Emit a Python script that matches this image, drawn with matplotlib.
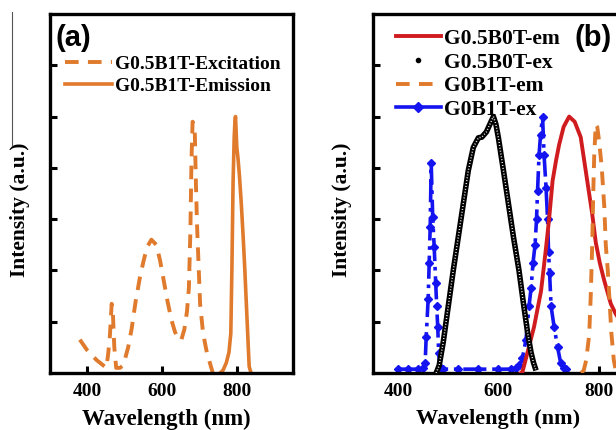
import matplotlib
matplotlib.use("Agg")
import matplotlib.pyplot as plt
from matplotlib.lines import Line2D

# ---------------- data ----------------
# panel (a)
a_ex_x = [381, 400, 426, 452, 457, 461, 466, 469, 473, 478, 488, 497, 510, 519, 530, 541, 550, 560, 572,
          585, 595, 605, 615, 625, 635, 645, 652, 660, 667, 672, 676, 679, 682, 685, 688, 691, 694, 698,
          702, 710, 720, 728, 736]
a_ex_y = [0.13, 0.09, 0.05, 0.02, 0.08, 0.14, 0.27, 0.24, 0.10, 0.02, 0.02, 0.03, 0.10, 0.17, 0.28, 0.37,
          0.43, 0.49, 0.52, 0.50, 0.44, 0.36, 0.28, 0.21, 0.16, 0.13, 0.13, 0.17, 0.24, 0.33, 0.55, 0.83,
          0.98, 0.97, 0.93, 0.73, 0.57, 0.42, 0.27, 0.155, 0.08, 0.04, 0.0]
a_em_x = [755, 763, 772, 779, 784, 787, 790, 793, 795, 796.5, 798, 800, 803, 807, 812, 817, 821, 827, 833, 838]
a_em_y = [0.0, 0.01, 0.04, 0.08, 0.155, 0.415, 0.74, 0.92, 0.98, 1.0, 0.95, 0.88, 0.84, 0.77, 0.66, 0.53,
          0.415, 0.22, 0.025, 0.0]

# panel (b)
b_em05_x = [645, 648, 658, 671, 685, 695, 701, 708, 715, 721, 730, 741, 752, 764, 777, 787, 794, 802, 811,
            824, 834, 850]
b_em05_y = [0.0, 0.005, 0.08, 0.18, 0.32, 0.49, 0.60, 0.75, 0.83, 0.89, 0.96, 1.0, 0.98, 0.92, 0.75, 0.62,
            0.51, 0.43, 0.36, 0.27, 0.23, 0.18]
b_ex05_x = [476, 482, 490, 500, 510, 520, 530, 540, 550, 560, 567, 576, 583, 590, 595, 600, 610, 620, 630,
            641, 650, 658, 665, 670, 675]
b_ex05_y = [0.0, 0.03, 0.12, 0.26, 0.40, 0.53, 0.66, 0.79, 0.88, 0.917, 0.92, 0.94, 0.97, 1.0, 0.97, 0.917,
            0.79, 0.66, 0.53, 0.40, 0.27, 0.16, 0.08, 0.04, 0.01]
b_em0_x = [765, 770, 775, 781, 784, 787, 789, 791, 794, 797, 801, 806, 811, 814, 818, 821, 825, 830, 835]
b_em0_y = [0.0, 0.01, 0.05, 0.15, 0.30, 0.50, 0.70, 0.85, 0.97, 0.96, 0.90, 0.80, 0.65, 0.50, 0.40, 0.30,
           0.16, 0.05, 0.0]
b_ex0_x = [400, 420, 440, 450, 454, 456, 460, 462, 464, 466, 469, 472, 475, 477, 479, 481, 483, 490, 520,
           560, 600, 625, 635, 642, 648, 655, 661, 665, 669, 673, 676, 678, 681, 684, 688, 691, 695, 698,
           700, 702, 705, 711, 718, 724, 730, 734]
b_ex0_y = [0.015, 0.015, 0.015, 0.02, 0.04, 0.14, 0.29, 0.43, 0.57, 0.82, 0.61, 0.49, 0.35, 0.26, 0.18,
           0.077, 0.025, 0.015, 0.015, 0.015, 0.015, 0.015, 0.02, 0.03, 0.06, 0.13, 0.26, 0.33, 0.43, 0.50,
           0.60, 0.71, 0.85, 0.93, 1.0, 0.85, 0.72, 0.60, 0.47, 0.39, 0.26, 0.18, 0.10, 0.04, 0.02, 0.015]

x_ticks = [400, 600, 800]
y_ticks = [0.2, 0.4, 0.6, 0.8, 1.0, 1.2]

# ---------------- style ----------------
ORANGE = "#E07A2C"
RED = "#D01C1F"
BLUE = "#1414F0"
SERIF = "Liberation Serif"
SANS = "Liberation Sans"

W, H = 616, 430
fig = plt.figure(figsize=(W / 100, H / 100), dpi=100)


def px_axes(l, r, t, b):
    return fig.add_axes([l / W, 1 - b / H, (r - l) / W, (b - t) / H])


def style(ax, xlim, xlabel_size):
    ax.set_xlim(*xlim)
    ax.set_ylim(0, 1.4)
    ax.set_xticks(x_ticks)
    ax.set_yticks(y_ticks)
    ax.set_yticklabels([])
    ax.tick_params(axis="both", direction="in", length=5, width=2.2, pad=7)
    for lab in ax.get_xticklabels():
        lab.set_fontfamily(SERIF)
        lab.set_fontweight("bold")
        lab.set_fontsize(14)
    for s in ax.spines.values():
        s.set_linewidth(2.4)
    ax.set_xlabel("Wavelength (nm)", fontfamily=SERIF, fontweight="bold", fontsize=xlabel_size)
    ax.set_ylabel("Intensity (a.u.)", fontfamily=SERIF, fontweight="bold", fontsize=15.5)


def leg_kw(size, spacing, hlen):
    return dict(loc="upper left", frameon=False, borderpad=0, borderaxespad=0, handlelength=hlen,
                handletextpad=0.15, labelspacing=spacing, numpoints=1,
                prop={"family": SERIF, "weight": "bold", "size": size})


# ---------------- panel (a) ----------------
axa = px_axes(49.5, 293, 14, 373)
style(axa, (300, 950), 16.5)
axa.plot(a_ex_x, a_ex_y, color=ORANGE, lw=2.8, dashes=(3.5, 2.4), label="G0.5B1T-Excitation")
axa.plot(a_em_x, a_em_y, color=ORANGE, lw=2.6, label="G0.5B1T-Emission")
axa.xaxis.set_label_coords(0.48, -0.1)
axa.yaxis.set_label_coords(-0.08, 0.454)
axa.text(0.023, 0.933, "(a)", transform=axa.transAxes, fontfamily=SANS, fontweight="bold",
         fontsize=21, ha="left", va="center")
axa.legend(bbox_to_anchor=(0.064, 0.886), **leg_kw(14, 0.26, 2.4))

# ---------------- panel (b) ----------------
axb = px_axes(373, 674, 14, 373)
style(axb, (350, 950), 16)
axb.plot(b_em05_x, b_em05_y, color=RED, lw=2.8, zorder=3)
# beaded black curve (dense open circles look)
axb.plot(b_ex05_x, b_ex05_y, color="black", lw=4.0, zorder=4, solid_capstyle="butt")
axb.plot(b_ex05_x, b_ex05_y, color="white", lw=1.1, dashes=(0.6, 1.3), zorder=5)
axb.plot(b_em0_x, b_em0_y, color=ORANGE, lw=2.8, dashes=(3.5, 2.4), zorder=3)
axb.plot(b_ex0_x, b_ex0_y, color=BLUE, lw=2.6, ls="-.", marker="D", ms=4.5, zorder=2)
axb.xaxis.set_label_coords(0.414, -0.1)
axb.yaxis.set_label_coords(-0.07, 0.454)
axb.text(0.668, 0.933, "(b)", transform=axb.transAxes, fontfamily=SANS, fontweight="bold",
         fontsize=21, ha="left", va="center")

handles = [
    Line2D([], [], color=RED, lw=2.8),
    Line2D([], [], color="black", ls="none", marker="o", ms=3),
    Line2D([], [], color=ORANGE, lw=2.8, dashes=(3.5, 2.4)),
    Line2D([], [], color=BLUE, lw=2.6, ls="-", marker="D", ms=5),
]
labels = ["G0.5B0T-em", "G0.5B0T-ex", "G0B1T-em", "G0B1T-ex"]
axb.legend(handles, labels, bbox_to_anchor=(0.076, 0.959), **leg_kw(15.5, 0.17, 2.1))

# thin artifact line on the far left
fig.add_artist(Line2D([12 / W, 12 / W], [1 - 12 / H, 1 - 145 / H], color="#555555", lw=0.8))

fig.savefig("out.png", dpi=100)
